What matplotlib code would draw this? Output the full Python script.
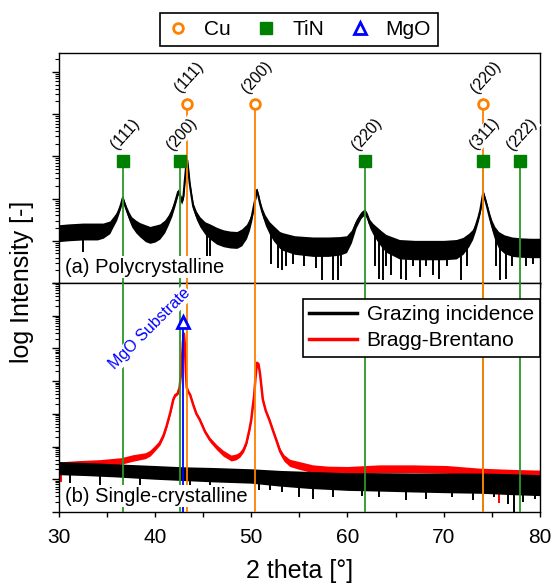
import numpy as np
import matplotlib
matplotlib.use("Agg")
import matplotlib.pyplot as plt
from matplotlib.ticker import MultipleLocator, NullFormatter, LogLocator
from matplotlib.lines import Line2D

plt.rcParams['font.family'] = ['Liberation Sans', 'DejaVu Sans']

# reference reflections (2 theta, deg)
cu_pos = [43.30, 50.43, 74.13]
cu_hkl = ['(111)', '(200)', '(220)']
tin_pos = [36.66, 42.60, 61.81, 74.07, 77.96]
tin_hkl = ['(111)', '(200)', '(220)', '(311)', '(222)']
mgo_pos = 42.92

poly_x = [30, 31, 32.5, 34, 34.6, 35.3, 35.65, 36.0, 36.2, 36.45,
          36.64, 36.85, 37.05, 37.3, 37.57, 38.0, 38.43, 39.0, 39.47, 40.0,
          40.5, 41.0, 41.37, 41.75, 42.06, 42.4, 42.6, 42.75, 42.95, 43.1,
          43.25, 43.34, 43.45, 43.6, 43.8, 43.97, 44.3, 44.66, 45.2, 45.7,
          46.4, 47.1, 47.8, 48.5, 49.0, 49.5, 49.8, 50.05, 50.25, 50.4,
          50.57, 50.75, 50.9, 51.15, 51.45, 51.9, 52.3, 52.95, 53.3, 54.5,
          56.4, 58.0, 59.2, 59.9, 60.4, 60.9, 61.4, 61.8, 62.05, 62.3,
          62.65, 63.0, 63.5, 64.0, 65.4, 67.0, 68.5, 70.0, 71.3, 72.0,
          72.6, 73.0, 73.3, 73.6, 73.8, 74.0, 74.1, 74.3, 74.5, 74.75,
          75.0, 75.3, 75.7, 76.3, 77.1, 78.0, 79.0, 80.0]
poly_log = [1.18, 1.20, 1.22, 1.22, 1.24, 1.32, 1.45, 1.58, 1.69, 1.85,
            2.01, 1.86, 1.73, 1.58, 1.45, 1.34, 1.26, 1.18, 1.14, 1.17,
            1.22, 1.34, 1.49, 1.68, 1.89, 2.16, 2.08, 1.93, 2.05, 2.44,
            2.80, 2.91, 2.70, 2.36, 2.05, 1.81, 1.60, 1.45, 1.30, 1.22,
            1.12, 1.06, 1.03, 1.02, 1.08, 1.22, 1.38, 1.57, 1.80, 1.97,
            2.20, 2.05, 1.89, 1.68, 1.49, 1.30, 1.18, 1.02, 0.98, 0.90,
            0.86, 0.86, 0.88, 0.92, 1.10, 1.41, 1.61, 1.69, 1.58, 1.41,
            1.28, 1.18, 1.05, 0.94, 0.80, 0.78, 0.78, 0.78, 0.80, 0.88,
            1.02, 1.15, 1.33, 1.55, 1.73, 2.00, 2.13, 1.98, 1.81, 1.58,
            1.37, 1.18, 1.02, 0.92, 0.86, 0.84, 0.83, 0.83]
poly_band = [0.20, 0.20, 0.20, 0.20, 0.18, 0.15, 0.12, 0.10, 0.08, 0.07,
             0.06, 0.07, 0.08, 0.10, 0.12, 0.15, 0.17, 0.20, 0.20, 0.20,
             0.18, 0.15, 0.12, 0.10, 0.08, 0.07, 0.07, 0.07, 0.07, 0.06,
             0.05, 0.05, 0.05, 0.06, 0.07, 0.08, 0.10, 0.12, 0.15, 0.18,
             0.20, 0.20, 0.20, 0.20, 0.20, 0.17, 0.14, 0.10, 0.08, 0.07,
             0.06, 0.06, 0.07, 0.09, 0.12, 0.15, 0.18, 0.20, 0.21, 0.22,
             0.23, 0.23, 0.22, 0.20, 0.15, 0.10, 0.08, 0.07, 0.08, 0.10,
             0.13, 0.16, 0.19, 0.21, 0.23, 0.23, 0.23, 0.23, 0.23, 0.20,
             0.16, 0.12, 0.10, 0.08, 0.07, 0.06, 0.06, 0.06, 0.07, 0.09,
             0.12, 0.16, 0.20, 0.22, 0.23, 0.23, 0.23, 0.23]
poly_spike_x = [32.5, 45.4, 45.7, 52.1, 52.8, 53.2, 53.6, 54.3, 55.5, 56.7,
                57.4, 58.5, 59.0, 59.3, 62.9, 63.3, 63.7, 64.0, 64.5, 65.6,
                66.1, 66.8, 67.5, 68.2, 68.9, 69.5, 70.3, 71.8, 72.4, 75.4,
                75.8, 76.5, 77.1, 78.6, 79.3]
poly_spike_lo = [0.74, 0.55, 0.60, 0.45, 0.35, 0.31, 0.40, 0.45, 0.40, 0.35,
                 0.07, 0.07, 0.07, 0.40, 0.40, 0.10, 0.07, 0.40, 0.20, 0.10,
                 0.07, 0.40, 0.15, 0.40, 0.20, 0.10, 0.40, 0.07, 0.40, 0.40,
                 0.07, 0.10, 0.40, 0.40, 0.45]

# (b) single crystalline, grazing incidence
gi_x = [30, 33, 36, 40, 43, 46, 50, 53, 56, 60, 63, 67, 70, 74, 77, 80]
gi_log = [1.34, 1.31, 1.27, 1.21, 1.17, 1.14, 1.10, 1.03, 0.98, 0.93,
          0.92, 0.90, 0.89, 0.88, 0.85, 0.82]
gi_band = [0.20, 0.20, 0.20, 0.21, 0.21, 0.22, 0.22, 0.24, 0.26, 0.27,
           0.28, 0.29, 0.30, 0.31, 0.32, 0.32]
gi_spike_x = [31.2, 34.3, 38.4, 43.6, 45.7, 50.8, 51.9, 53.2, 55.0, 56.4,
              58.5, 61.5, 63.3, 66.1, 68.2, 70.9, 73.0, 75.2, 76.7, 77.3,
              78.2, 79.5]
gi_spike_lo = [0.90, 0.83, 0.80, 0.75, 0.75, 0.67, 0.67, 0.60, 0.47, 0.40,
               0.45, 0.50, 0.45, 0.37, 0.40, 0.45, 0.37, 0.45, 0.25, -0.30,
               0.30, 0.40]

# (b) single crystalline, Bragg-Brentano
bb_x = [30, 32, 34.3, 36.5, 37.7, 39.0, 39.5, 40.0, 40.5, 40.9,
        41.2, 41.6, 41.9, 42.1, 42.35, 42.55, 42.75, 42.9, 43.0, 43.1,
        43.2, 43.3, 43.45, 43.65, 44.0, 44.3, 44.65, 45.2, 45.7, 46.4,
        47.06, 47.9, 48.4, 48.8, 49.2, 49.5, 49.8, 50.0, 50.15, 50.3,
        50.45, 50.6, 50.75, 50.9, 51.05, 51.2, 51.5, 51.9, 52.3, 52.6,
        53.0, 53.4, 54.0, 55.0, 56.4, 58.0, 60.0, 63.3, 66.8, 70.3,
        73.7, 77.2, 80.0]
bb_log = [1.41, 1.45, 1.49, 1.56, 1.65, 1.72, 1.80, 1.95, 2.11, 2.35,
          2.62, 3.05, 3.44, 3.57, 3.62, 3.80, 4.40, 5.20, 5.45, 5.10,
          4.30, 3.80, 3.68, 3.58, 3.25, 3.00, 2.82, 2.45, 2.21, 1.98,
          1.80, 1.65, 1.68, 1.75, 1.90, 2.11, 2.50, 2.82, 3.20, 3.55,
          4.15, 4.56, 4.52, 4.25, 3.85, 3.44, 3.10, 2.80, 2.45, 2.20,
          1.85, 1.65, 1.50, 1.42, 1.32, 1.28, 1.27, 1.32, 1.32, 1.30,
          1.22, 1.17, 1.15]
bb_band = [0.12, 0.12, 0.11, 0.10, 0.10, 0.09, 0.09, 0.08, 0.07, 0.06,
           0.05, 0.04, 0.04, 0.04, 0.04, 0.04, 0.03, 0.03, 0.03, 0.03,
           0.03, 0.04, 0.04, 0.04, 0.04, 0.05, 0.05, 0.06, 0.07, 0.08,
           0.09, 0.09, 0.09, 0.08, 0.07, 0.06, 0.05, 0.04, 0.04, 0.03,
           0.03, 0.03, 0.03, 0.03, 0.03, 0.04, 0.04, 0.05, 0.06, 0.07,
           0.09, 0.10, 0.11, 0.12, 0.12, 0.12, 0.12, 0.12, 0.12, 0.12,
           0.12, 0.13, 0.13]
bb_spike_x = [30.2, 75.7]
bb_spike_lo = [0.93, 0.28]

# marker heights (log10) of the reference symbols
cu_mark = 4.23
tin_mark = 2.89
mgo_mark = 5.80

c_cu = '#ff8000'
c_tin = '#008000'
c_tin_line = '#2a972a'
c_mgo = '#0000ff'


def draw_trace(ax, x, logv, band, color, lw):
    x = np.asarray(x)
    logv = np.asarray(logv)
    band = np.asarray(band)
    ax.fill_between(x, 10 ** (logv - band), 10 ** (logv + band),
                    color=color, lw=0, zorder=2)
    ax.plot(x, 10 ** logv, color=color, lw=lw, zorder=2)


def draw_spikes(ax, sx, slo, x, logv, color):
    top = np.interp(sx, x, logv)
    ax.vlines(sx, 10 ** np.asarray(slo), 10 ** top, color=color, lw=1.4, zorder=2)


fig = plt.figure(figsize=(5.52, 5.88), dpi=100)
ax1 = fig.add_axes([0.1065, 0.5187, 0.8717, 0.392])
ax2 = fig.add_axes([0.1065, 0.1293, 0.8717, 0.3895], sharex=ax1)

# ---- top panel
draw_trace(ax1, poly_x, poly_log, poly_band, 'black', 1.5)
draw_spikes(ax1, poly_spike_x, poly_spike_lo, poly_x, poly_log, 'black')

ax1.vlines(tin_pos, 1, 10 ** tin_mark, color=c_tin_line, lw=1.3, zorder=3)
ax1.vlines(cu_pos, 1, 10 ** cu_mark, color=c_cu, lw=1.3, zorder=3)
ax1.plot(tin_pos, [10 ** tin_mark] * len(tin_pos), ls='none', marker='s',
         ms=8, color=c_tin, zorder=5)
ax1.plot(cu_pos, [10 ** cu_mark] * len(cu_pos), ls='none', marker='o', ms=7,
         mfc='white', mec=c_cu, mew=2, zorder=5)
for p, h in zip(tin_pos, tin_hkl):
    ax1.annotate(h, (p, 10 ** tin_mark), xytext=(1.4, 19.5),
                 textcoords='offset points', ha='center', va='center',
                 rotation=48, fontsize=11.5, zorder=4,
                 bbox=dict(boxstyle='square,pad=0.05', fc='white', ec='none'))
for p, h in zip(cu_pos, cu_hkl):
    ax1.annotate(h, (p, 10 ** cu_mark), xytext=(1.4, 19.5),
                 textcoords='offset points', ha='center', va='center',
                 rotation=48, fontsize=11.5, zorder=4,
                 bbox=dict(boxstyle='square,pad=0.05', fc='white', ec='none'))
ax1.text(0.013, 0.045, '(a) Polycrystalline', transform=ax1.transAxes,
         fontsize=14.5, ha='left', va='baseline', zorder=6,
         bbox=dict(boxstyle='square,pad=0.08', fc='white', ec='none'))
ax1.set_ylim(1, 10 ** 5.46)

# ---- bottom panel
draw_trace(ax2, bb_x, bb_log, bb_band, 'red', 1.8)
draw_spikes(ax2, bb_spike_x, bb_spike_lo, bb_x, bb_log, 'red')
draw_trace(ax2, gi_x, gi_log, gi_band, 'black', 1.5)
draw_spikes(ax2, gi_spike_x, gi_spike_lo, gi_x, gi_log, 'black')

ax2.vlines(tin_pos, 1, 1e7, color=c_tin_line, lw=1.3, zorder=3)
ax2.vlines(cu_pos, 1, 1e7, color=c_cu, lw=1.3, zorder=3)
ax2.vlines([mgo_pos], 1, 10 ** mgo_mark, color=c_mgo, lw=1.3, zorder=3)
ax2.plot([mgo_pos], [10 ** mgo_mark], ls='none', marker='^', ms=9,
         mfc='white', mec=c_mgo, mew=2, zorder=5)
ax2.text(39.46, 10 ** 5.59, 'MgO Substrate', color=c_mgo, fontsize=11.5,
         rotation=45, ha='center', va='center', zorder=4,
         bbox=dict(boxstyle='square,pad=0.05', fc='white', ec='none'))
ax2.text(0.013, 0.045, '(b) Single-crystalline', transform=ax2.transAxes,
         fontsize=14.5, ha='left', va='baseline', zorder=6,
         bbox=dict(boxstyle='square,pad=0.08', fc='white', ec='none'))
ax2.set_ylim(1, 1e7)

leg2 = ax2.legend(handles=[Line2D([], [], color='black', lw=2.5, label='Grazing incidence'),
                           Line2D([], [], color='red', lw=2.5, label='Bragg-Brentano')],
                  loc='upper right', bbox_to_anchor=(1.0, 1 - 16 / 229),
                  borderaxespad=0, fontsize=15, handlelength=2.3,
                  borderpad=0.3, handletextpad=0.45, labelspacing=0.35,
                  fancybox=False, edgecolor='black', framealpha=1)
leg2.get_frame().set_linewidth(1.2)

leg1 = ax1.legend(handles=[Line2D([], [], ls='none', marker='o', ms=7, mfc='white',
                                  mec=c_cu, mew=2, label='Cu'),
                           Line2D([], [], ls='none', marker='s', ms=8, color=c_tin,
                                  label='TiN'),
                           Line2D([], [], ls='none', marker='^', ms=8, mfc='white',
                                  mec=c_mgo, mew=2, label='MgO')],
                  loc='lower center', bbox_to_anchor=(0.5, 1.0), ncol=3,
                  borderaxespad=0.3, fontsize=15, fancybox=False,
                  edgecolor='black', framealpha=1, handlelength=1.0,
                  handletextpad=0.75, columnspacing=1.2, borderpad=0.35)
leg1.get_frame().set_linewidth(1.2)

for ax in (ax1, ax2):
    ax.set_yscale('log')
    ax.yaxis.set_major_locator(LogLocator(base=10, numticks=20))
    ax.yaxis.set_minor_locator(LogLocator(base=10, subs=np.arange(2, 10), numticks=100))
    ax.yaxis.set_major_formatter(NullFormatter())
    ax.yaxis.set_minor_formatter(NullFormatter())
    ax.xaxis.set_major_locator(MultipleLocator(10))
    ax.xaxis.set_minor_locator(MultipleLocator(5))
    ax.tick_params(axis='y', which='major', direction='out', length=5, width=1)
    ax.tick_params(axis='y', which='minor', direction='out', length=3, width=0.8)
    ax.tick_params(axis='x', which='both', direction='out', length=3.5, width=1)
    for s in ax.spines.values():
        s.set_linewidth(1.0)

ax1.set_xlim(30, 80)
ax1.tick_params(labelbottom=False)
ax2.tick_params(axis='x', labelsize=15, pad=8)
ax2.set_xlabel('2 theta [°]', fontsize=18, labelpad=9)
fig.text(0.04, 1 - 282 / 588, 'log Intensity [-]', rotation=90, fontsize=18,
         ha='center', va='center')

fig.savefig('out.png', dpi=100)
